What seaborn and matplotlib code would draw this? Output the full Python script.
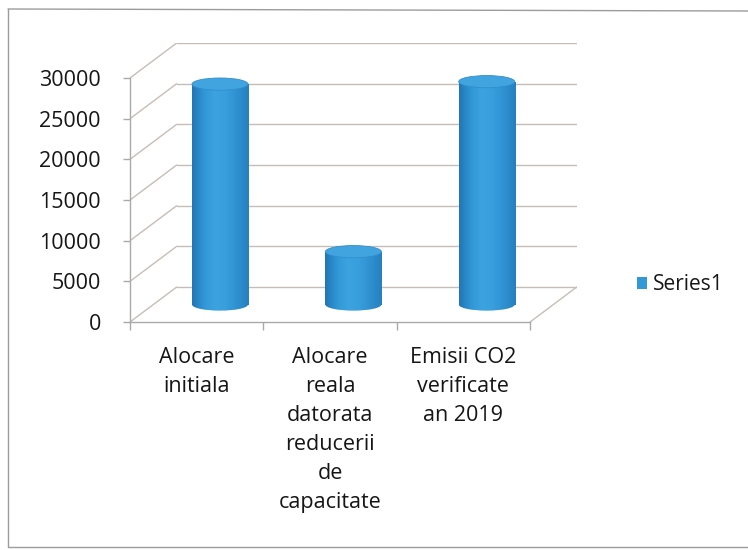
import numpy as np
import matplotlib
matplotlib.use("Agg")
import matplotlib.pyplot as plt
import seaborn as sns
from matplotlib.patches import Ellipse, Patch
from matplotlib.lines import Line2D
from matplotlib.colors import LinearSegmentedColormap

# ---- data ----
categories = ["Alocare initiala",
              "Alocare reala datorata reducerii de capacitate",
              "Emisii CO2 verificate an 2019"]
tick_labels = ["Alocare\ninitiala",
               "Alocare\nreala\ndatorata\nreducerii\nde\ncapacitate",
               "Emisii CO2\nverificate\nan 2019"]
values = [27100, 6500, 27400]
y_ticks = [0, 5000, 10000, 15000, 20000, 25000, 30000]
series_name = "Series1"

# ---- style ----
sns.set_theme(style="white")
plt.rcParams["font.family"] = ["Open Sans", "DejaVu Sans"]
text_c = "#161616"
grid_c = "#c6beb6"
axis_c = "#a9a9a9"
bar_c = "#3399d6"
top_c = "#42a4df"

# fake 3d depth (category units / value units)
DX = 0.35
DY = 4300
BAR_W = 0.42
EH = 1500

cyl_cmap = LinearSegmentedColormap.from_list(
    "cyl", ["#2276b6", "#3096d5", "#3ca2e0", "#399edc", "#2f90d0", "#2780c0"])
grad = np.linspace(0, 1, 64).reshape(1, -1)

fig = plt.figure(figsize=(7.48, 5.5), dpi=100, facecolor="white")
ax = fig.add_axes([0.1738, 0.4145, 0.5972, 0.5073])
ax.set_facecolor("none")

# back wall and side wall
for v in y_ticks:
    ax.plot([-0.5 + DX, 2.5 + DX], [v + DY, v + DY], color=grid_c, lw=1, zorder=1)
    ax.plot([-0.5, -0.5 + DX], [v, v + DY], color=grid_c, lw=1, zorder=1)
ax.plot([2.5, 2.5 + DX], [0, DY], color=grid_c, lw=1, zorder=1)

# cylinders
sns.barplot(x=categories, y=values, width=BAR_W, color=bar_c,
            saturation=1, ax=ax, zorder=3)

for p, v in zip(list(ax.patches), values):
    p.set_x(p.get_x() + DX / 2)
    p.set_y(DY / 2)
    p.set_facecolor("none")
    p.set_edgecolor("none")
    x0 = p.get_x()
    cx = x0 + BAR_W / 2
    base = Ellipse((cx, DY / 2), BAR_W, EH, fc="none", ec="none")
    ax.add_patch(base)
    for clip in (p, base):
        im = ax.imshow(grad, cmap=cyl_cmap, aspect="auto", zorder=3,
                       extent=(x0, x0 + BAR_W, DY / 2 - EH, DY / 2 + v),
                       interpolation="bicubic")
        im.set_clip_path(clip)
    ax.add_patch(Ellipse((cx, v + DY / 2), BAR_W, EH, fc=top_c,
                         ec="#2f8fce", lw=0.6, zorder=5))

ax.set_xlim(-0.5, 2.5 + DX)
ax.set_ylim(0, 30000 + DY)

# axes
for s in ("top", "right"):
    ax.spines[s].set_visible(False)
ax.spines["left"].set_bounds(0, 30000)
ax.spines["bottom"].set_bounds(-0.5, 2.5)
for s in ("left", "bottom"):
    ax.spines[s].set_color(axis_c)
    ax.spines[s].set_linewidth(1)

ax.set_yticks(y_ticks)
ax.set_yticklabels([str(t) for t in y_ticks])
ax.tick_params(axis="y", left=True, length=5, width=1, color=axis_c,
               direction="out", pad=16, labelsize=15.5, labelcolor=text_c)

ax.set_xticks([0, 1, 2])
ax.set_xticklabels(tick_labels, linespacing=1.5)
ax.set_xticks([-0.5, 0.5, 1.5, 2.5], minor=True)
ax.tick_params(axis="x", which="major", bottom=True, length=0, pad=18,
               labelsize=15.5, labelcolor=text_c)
ax.tick_params(axis="x", which="minor", bottom=True, length=6, width=1,
               color=axis_c, direction="out")
ax.set_xlabel("")
ax.set_ylabel("")

# legend
fig.legend(handles=[Patch(facecolor=bar_c, edgecolor="none", label=series_name)],
           loc="center left", bbox_to_anchor=(618 / 748, 1 - 285 / 550),
           frameon=False, fontsize=15, handlelength=0.5, handleheight=0.5,
           handletextpad=0.3, labelcolor=text_c)

# chart area border
border = dict(transform=fig.transFigure, color="#9c9c9c", lw=1)
fig.add_artist(Line2D([8 / 748, 8 / 748], [1 - 9 / 550, 1 - 547 / 550], **border))
fig.add_artist(Line2D([8 / 748, 1], [1 - 9 / 550, 1 - 11 / 550], **border))
fig.add_artist(Line2D([8 / 748, 1], [1 - 547 / 550, 1 - 547 / 550], **border))

fig.savefig("out.png", dpi=100, facecolor="white")
